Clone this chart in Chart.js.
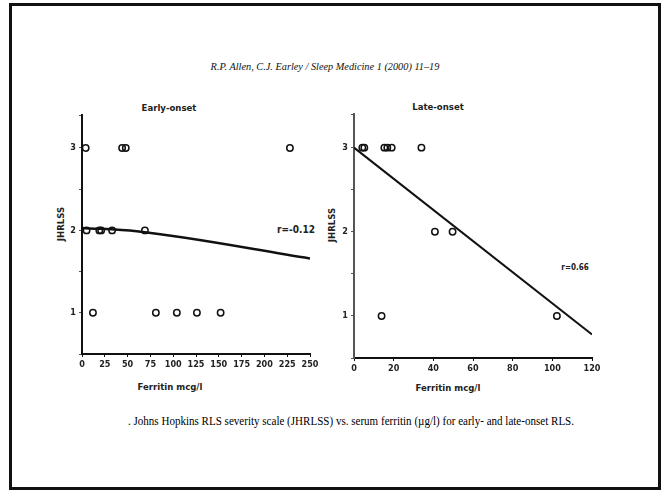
<!DOCTYPE html>
<html>
<head>
<meta charset="utf-8">
<script src="https://cdn.jsdelivr.net/npm/chart.js@4/dist/chart.umd.min.js"></script>
<style>
  body { margin: 0; width: 666px; height: 490px; background: #fff; position: relative; overflow: hidden; }
  .frame { position: absolute; left: 9px; top: 3px; width: 652px; height: 487px; box-sizing: border-box; border: 3px solid #111; }
  .txt { position: absolute; white-space: nowrap; color: #111; transform: translate(-50%, -50%); }
  .narrow { font-family: "Liberation Sans Narrow", "Arial Narrow", "DejaVu Sans Condensed", sans-serif; font-weight: bold; color: #222; }
  .serif { font-family: "Liberation Serif", "DejaVu Serif", serif; }
  .rot { transform: translate(-50%, -50%) rotate(-90deg); }
  canvas { position: absolute; }
</style>
</head>
<body>
<div class="frame"></div>

<div class="txt serif" style="left:325px; top:66px; font-size:10.3px; font-style:italic;">R.P. Allen, C.J. Earley / Sleep Medicine 1 (2000) 11–19</div>

<div class="txt narrow" style="left:169px; top:107px; font-size:9.5px;">Early-onset</div>
<div class="txt narrow" style="left:438px; top:106px; font-size:9.5px;">Late-onset</div>

<div class="txt narrow rot" style="left:60px; top:224px; font-size:9.5px;">JHRLSS</div>
<div class="txt narrow rot" style="left:331px; top:225px; font-size:9.5px;">JHRLSS</div>

<div class="txt narrow" style="left:170px; top:386px; font-size:9.5px;">Ferritin mcg/l</div>
<div class="txt narrow" style="left:448px; top:387px; font-size:9.5px;">Ferritin mcg/l</div>

<div class="txt narrow" style="left:296px; top:229px; font-size:10px;">r=-0.12</div>
<div class="txt narrow" style="left:575px; top:267px; font-size:8px;">r=0.66</div>

<div class="txt serif" style="left:351px; top:421px; font-size:12px; color:#000; transform: translate(-50%, -50%) scaleX(0.92);">. Johns Hopkins RLS severity scale (JHRLSS) vs. serum ferritin (µg/l) for early- and late-onset RLS.</div>

<canvas id="early" width="290" height="300" style="left:40px; top:100px;"></canvas>
<canvas id="late" width="290" height="300" style="left:320px; top:100px;"></canvas>

<script>
// early-onset group: ferritin vs severity score
const earlyFerritin = [4, 44, 48, 228, 5, 19, 21, 33, 69, 12, 81, 104, 126, 152];
const earlyScore    = [3, 3, 3, 3, 2, 2, 2, 2, 2, 1, 1, 1, 1, 1];
const earlyFitX = [0, 60, 250];
const earlyFitY = [2.03, 1.99, 1.66];

// late-onset group
const lateFerritin = [4.2, 5.2, 15.3, 16.8, 19, 34, 40.8, 49.7, 13.9, 102.3];
const lateScore    = [3, 3, 3, 3, 3, 3, 2, 2, 1, 1];
const lateFitX = [0, 120];
const lateFitY = [3.0, 0.78];

const scoreLabels = [1, 2, 3];

const tickFont = { family: '"Liberation Sans Narrow", "Arial Narrow", "DejaVu Sans Condensed", sans-serif', size: 9, weight: 'bold' };

function pts(xs, ys) {
  return xs.map((x, i) => ({ x: x, y: ys[i] }));
}

function makeChart(id, cfg) {
  new Chart(document.getElementById(id), {
    type: 'scatter',
    data: {
      datasets: [
        {
          data: pts(cfg.xs, cfg.ys),
          pointStyle: 'circle',
          pointRadius: 3.2,
          borderColor: '#111',
          backgroundColor: 'rgba(0,0,0,0)',
          borderWidth: 1.5
        },
        {
          type: 'line',
          data: pts(cfg.fitX, cfg.fitY),
          borderColor: '#111',
          borderWidth: cfg.lineWidth,
          pointRadius: 0,
          cubicInterpolationMode: 'monotone',
          fill: false
        }
      ]
    },
    options: {
      responsive: false,
      animation: false,
      devicePixelRatio: 1,
      layout: { padding: { left: 0, right: cfg.padRight, top: cfg.padTop, bottom: 0 } },
      plugins: { legend: { display: false }, tooltip: { enabled: false } },
      scales: {
        x: {
          type: 'linear',
          min: 0,
          max: cfg.xMax,
          afterFit: s => { s.height = cfg.xHeight; },
          border: { color: '#111', width: 2 },
          grid: { drawOnChartArea: false, tickLength: 3, color: '#111' },
          ticks: { stepSize: cfg.xStep, color: '#222', font: tickFont, padding: 2, maxRotation: 0 }
        },
        y: {
          type: 'linear',
          min: 0.5,
          max: 3.4,
          afterFit: s => { s.width = cfg.yWidth; },
          border: { color: cfg.yAxisColor, width: 2 },
          grid: { drawOnChartArea: false, tickLength: 3, color: '#555' },
          ticks: {
            stepSize: 0.5,
            color: '#222',
            font: tickFont,
            padding: 3,
            callback: v => scoreLabels.includes(v) ? String(v) : ''
          }
        }
      }
    }
  });
}

makeChart('early', {
  xs: earlyFerritin, ys: earlyScore, fitX: earlyFitX, fitY: earlyFitY,
  xMax: 250, xStep: 25, padRight: 20, padTop: 15, xHeight: 46, yWidth: 42,
  lineWidth: 2.5, yAxisColor: '#111'
});

makeChart('late', {
  xs: lateFerritin, ys: lateScore, fitX: lateFitX, fitY: lateFitY,
  xMax: 120, xStep: 20, padRight: 18, padTop: 14, xHeight: 42, yWidth: 34,
  lineWidth: 2, yAxisColor: '#555'
});
</script>
</body>
</html>
